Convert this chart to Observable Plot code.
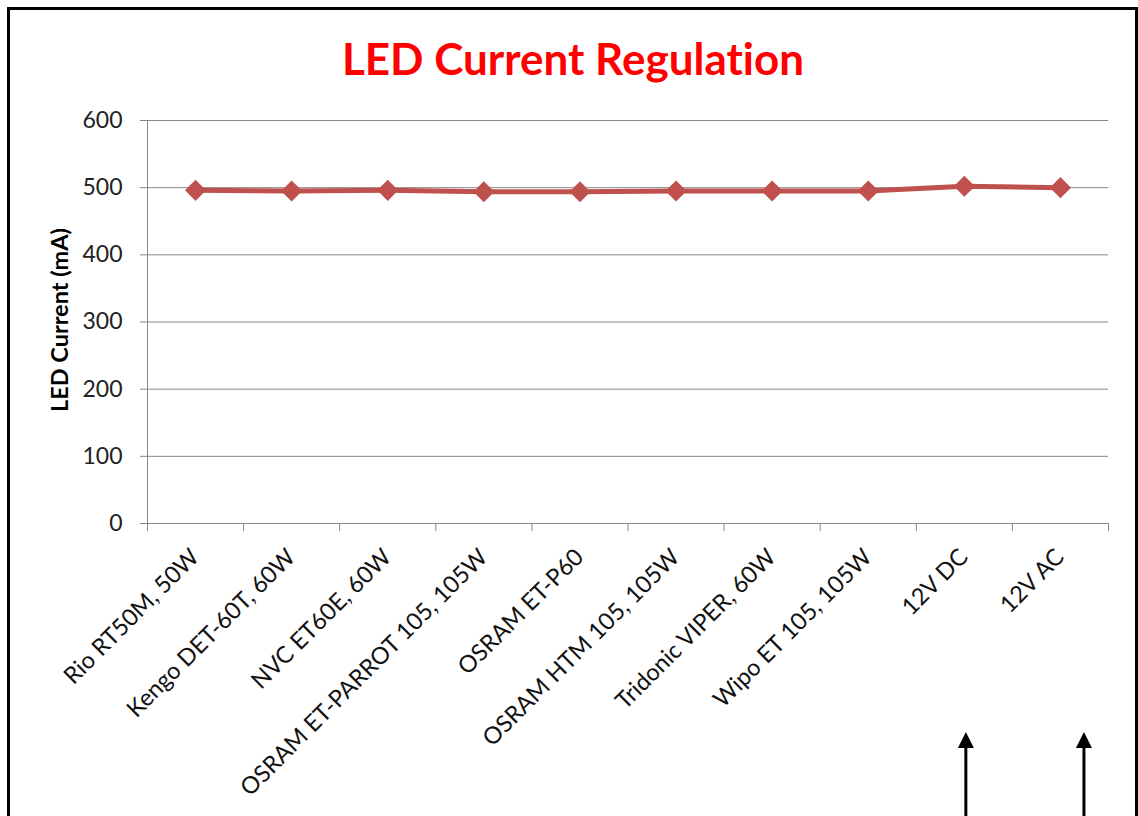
<!DOCTYPE html>
<html>
<head>
<meta charset="utf-8">
<script src="https://cdn.jsdelivr.net/npm/d3@7"></script>
<script src="https://cdn.jsdelivr.net/npm/@observablehq/plot@0.6"></script>
<style>
  body { margin: 0; background: #fff; }
  #wrap { position: relative; width: 1138px; height: 816px; overflow: hidden; background: #fff; }
  #frame { position: absolute; left: 7px; top: 7px; width: 1131px; height: 900px; border: 3px solid #000; box-sizing: border-box; }
  #title { position: absolute; left: 0; top: 33px; width: 1146px; text-align: center; font-family: Lato, sans-serif; font-weight: bold; font-size: 44px; color: #ff0000; line-height: 50px; font-variant-ligatures: none; }
  #chart { position: absolute; left: 0; top: 0; }
  #arrows { position: absolute; left: 0; top: 0; }
</style>
</head>
<body>
<div id="wrap">
  <div id="frame"></div>
  <div id="title">LED Current Regulation</div>
  <div id="chart"></div>
  <svg id="arrows" width="1138" height="816"></svg>
</div>
<script>
const categories = [
  "Rio RT50M, 50W",
  "Kengo DET-60T, 60W",
  "NVC ET60E, 60W",
  "OSRAM ET-PARROT 105, 105W",
  "OSRAM ET-P60",
  "OSRAM HTM 105, 105W",
  "Tridonic VIPER, 60W",
  "Wipo ET 105, 105W",
  "12V DC",
  "12V AC"
];
const currentMA = [496, 495, 496, 494, 494, 495, 495, 495, 502, 500];
const yTicks = [0, 100, 200, 300, 400, 500, 600];
const yLabel = "LED Current (mA)";
const arrowTargets = ["12V DC", "12V AC"];

const data = categories.map((name, i) => ({ name, idx: i + 0.5, value: currentMA[i] }));
const boundaries = d3.range(categories.length + 1);

const gray = "#888888";
const chart = Plot.plot({
  width: 1138,
  height: 816,
  marginLeft: 147,
  marginRight: 30,
  marginTop: 120,
  marginBottom: 293,
  style: { fontFamily: "Lato, sans-serif", background: "transparent", overflow: "visible" },
  x: { type: "linear", domain: [0, categories.length], axis: null },
  y: { domain: [0, 600], axis: null },
  marks: [
    Plot.ruleY(yTicks, { stroke: gray, strokeWidth: 1 }),
    Plot.ruleX([0], { y1: 0, y2: 600, stroke: gray, strokeWidth: 1 }),
    Plot.axisY(yTicks, { anchor: "left", tickSize: 7, tickPadding: 18, fontSize: 23, stroke: gray, fill: "#222", label: null }),
    Plot.axisX(boundaries, { anchor: "bottom", tickSize: 8, tickFormat: () => "", stroke: gray, label: null }),
    Plot.text([yLabel], { frameAnchor: "left", textAnchor: "middle", lineAnchor: "middle", dx: -87, dy: -2, rotate: -90, fontWeight: "bold", fontSize: 23.5, fill: "#000" }),
    Plot.text(data, { x: "idx", frameAnchor: "bottom", text: "name", rotate: -45, textAnchor: "end", dx: 5, dy: 35, fontSize: 23.5, fill: "#111" }),
    Plot.line(data, { x: "idx", y: "value", stroke: "#c0504d", strokeWidth: 5 }),
    Plot.dot(data, { x: "idx", y: "value", symbol: "diamond2", r: 9.5, fill: "#c0504d", stroke: "none" })
  ]
});
document.getElementById("chart").appendChild(chart);

// Annotation arrows below the 12V categories
const xs = chart.scale("x");
const svg = d3.select("#arrows");
const offsets = [2, 24];
arrowTargets.forEach((t, k) => {
  const i = categories.indexOf(t);
  const x = xs.apply(i + 0.5) + offsets[k];
  svg.append("line").attr("x1", x).attr("x2", x).attr("y1", 830).attr("y2", 746)
    .attr("stroke", "#000").attr("stroke-width", 3);
  svg.append("path").attr("d", `M${x - 8},748L${x},732L${x + 8},748Z`).attr("fill", "#000");
});
</script>
</body>
</html>
